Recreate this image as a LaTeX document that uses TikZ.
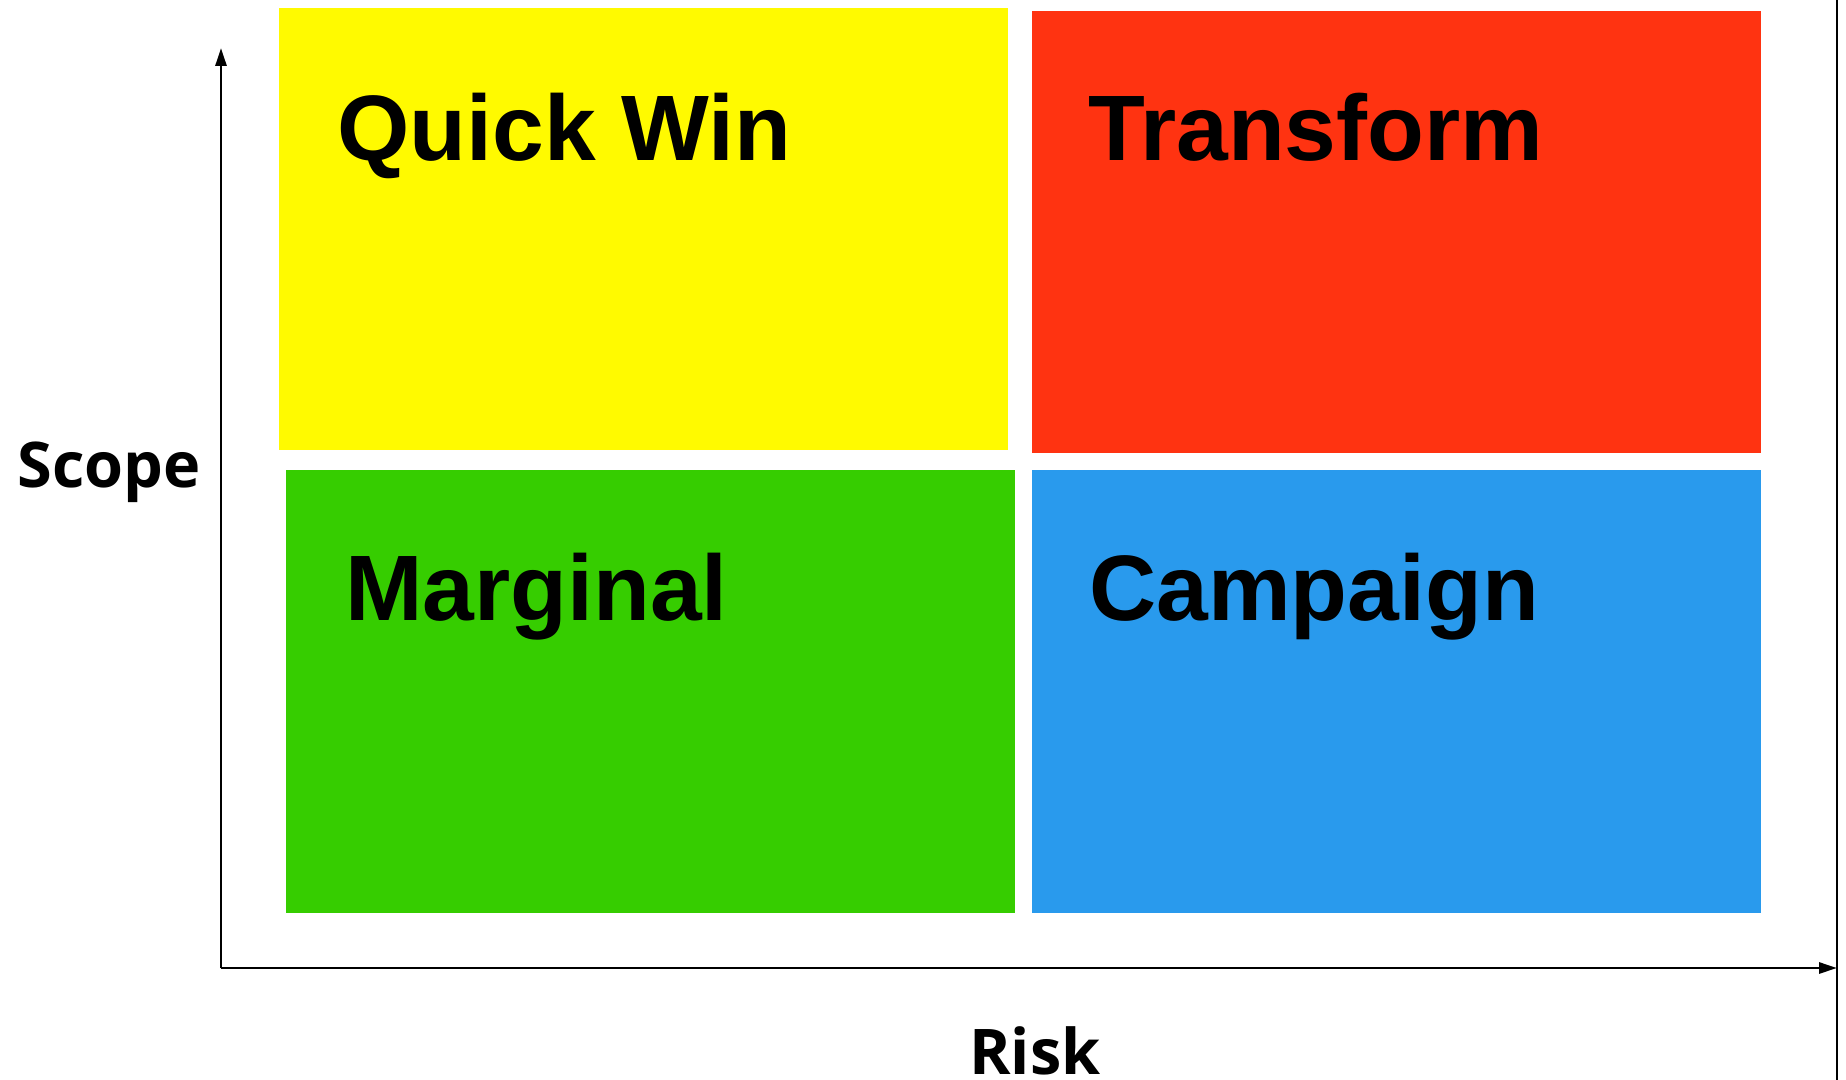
\documentclass[tikz,border=0pt]{standalone}
\usepackage{fontspec}
\setmainfont{Liberation Sans}
\newfontfamily\axisfont{Open Sans}
\usepackage{tikz}
\usetikzlibrary{arrows.meta}

\definecolor{qwyellow}{RGB}{255,250,0}
\definecolor{tfred}{RGB}{255,51,17}
\definecolor{mggreen}{RGB}{54,205,0}
\definecolor{cpblue}{RGB}{41,154,237}

\begin{document}
\begin{tikzpicture}[x=0.5pt,y=-0.5pt]
\tikzstyle{every node}+=[inner sep=0pt]
\tikzstyle{quad}=[font=\fontsize{46.5}{46.5}\selectfont\bfseries, anchor=base west]
\tikzstyle{axislabel}=[font=\axisfont\fontsize{31.5}{31.5}\selectfont\bfseries]
\tikzstyle{axis}=[line width=1.4pt, -{Triangle[length=9pt,width=5.5pt]}]
\useasboundingbox (0,0) rectangle (1846,1080);
\fill [qwyellow] (279,8) rectangle (1008,450);
\node [quad] (quickwin) at (337,161) {Quick Win};
\fill [tfred] (1032,11) rectangle (1761,453);
\node [quad] (transform) at (1088,161) {Transform};
\fill [mggreen] (286,470) rectangle (1015,913);
\node [quad] (marginal) at (345,620) {Marginal};
\fill [cpblue] (1032,470) rectangle (1761,913);
\node [quad] (campaign) at (1089,620) {Campaign};
\coordinate (origin) at (221,968);
\coordinate (ytip) at (221,48);
\coordinate (xtip) at (1837,968);
\draw [axis] (origin) -- (ytip);
\draw [axis] (origin) -- (xtip);
\draw [line width=1pt] (1837,0) -- (1837,1080);
\node [axislabel, anchor=base] (scope) at (109,487) {Scope};
\node [axislabel, anchor=base, text depth=0pt] (risk) at (1035,1074) {Risk};
\end{tikzpicture}
\end{document}
